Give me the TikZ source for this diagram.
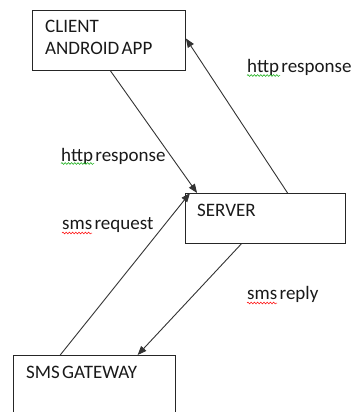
\documentclass[tikz,border=0pt]{standalone}
\usepackage{fontspec}
\setmainfont{Carlito}[WordSpace=0.55]
\usetikzlibrary{arrows.meta,calc,decorations.pathmorphing}
\begin{document}
\begin{tikzpicture}[x=1pt,y=-1pt,
  box/.style={draw=black!85,line width=0.9pt,rectangle,inner sep=0pt,anchor=north west},
  lbl/.style={inner sep=0pt,anchor=base west,font=\fontsize{19}{22}\selectfont,text=black!90},
  conn/.style={draw=black!80,line width=0.9pt,-{Triangle[length=9pt,width=7pt]}},
  squig/.style={decorate,decoration={snake,amplitude=0.9pt,segment length=3.2pt},line width=0.5pt}
]
\useasboundingbox (0,0) rectangle (355,412);
\clip (0,0) rectangle (355,412);
\node[box,minimum width=153pt,minimum height=60pt] (client) at (32,10) {};
\node[box,minimum width=160pt,minimum height=50pt] (server) at (185,193) {};
\node[box,minimum width=162pt,minimum height=70pt] (gateway) at (13,355) {};

\node[lbl] (tclient1) at (45,33) {CLIENT};
\node[lbl] (tclient2) at (45,55) {ANDROID APP};
\node[lbl] (tserver) at (197,216) {SERVER};
\node[lbl] (tgateway) at (26,378) {SMS GATEWAY};

\node[lbl] (l1) at (247,73) {http response};
\node[lbl] (l2) at (61,161) {http response};
\node[lbl] (l3) at (62,229) {sms request};
\node[lbl] (l4) at (247,299) {sms reply};

\draw[conn] ($(client.south west)!0.51!(client.south east)$) -- ($(server.north west)!0.075!(server.north east)$);
\draw[conn] ($(server.north west)!0.6375!(server.north east)$) -- ($(client.north east)!0.467!(client.south east)$);
\draw[conn] ($(gateway.north west)!0.29!(gateway.north east)$) -- ($(server.north west)!0.031!(server.north east)$);
\draw[conn] ($(server.south west)!0.35!(server.south east)$) -- ($(gateway.north west)!0.765!(gateway.north east)$);

\draw[squig,draw=green!65!black] ([yshift=-2.5pt]l1.base west) -- ++(33,0);
\draw[squig,draw=green!65!black] ([yshift=-2.5pt]l2.base west) -- ++(33,0);
\draw[squig,draw=red] ([yshift=-4pt]l3.base west) -- ++(30,0);
\draw[squig,draw=red] ([yshift=-4pt]l4.base west) -- ++(30,0);
\end{tikzpicture}
\end{document}
